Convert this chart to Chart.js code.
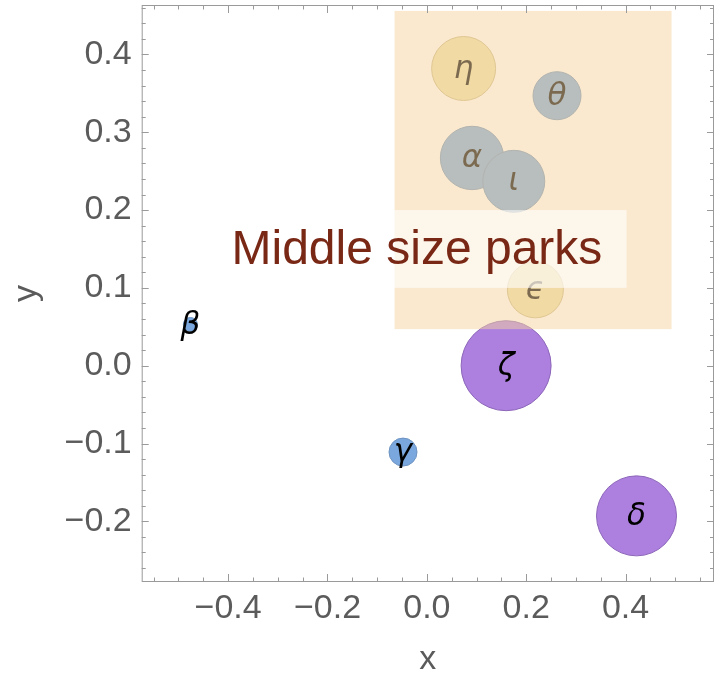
<!DOCTYPE html>
<html>
<head>
<meta charset="utf-8">
<script src="https://cdn.jsdelivr.net/npm/chart.js@4.4.1/dist/chart.umd.min.js"></script>
<style>
  body { margin: 0; background: #fff; }
  #wrap { width: 716px; height: 677px; }
</style>
</head>
<body>
<div id="wrap"><canvas id="parkChart"></canvas></div>
<script>
// parks, greek labels
const names = ['α', 'β', 'γ', 'δ', 'ϵ', 'ζ', 'η', 'θ', 'ι'];
const xs = [0.091, -0.476, -0.048, 0.422, 0.2185, 0.1595, 0.074, 0.262, 0.175];
const ys = [0.267, 0.053, -0.111, -0.193, 0.0975, 0.0, 0.382, 0.347, 0.237];
const sizes = [31.7, 7, 14, 40, 28, 45, 32, 24, 31];
const groups = ['blue', 'blue', 'blue', 'purple', 'yellow', 'purple', 'yellow', 'blue', 'blue'];

const xTicks = [-0.4, -0.2, 0.0, 0.2, 0.4];
const yTicks = [-0.2, -0.1, 0.0, 0.1, 0.2, 0.3, 0.4];

// highlighted region + caption
const parkX = [-0.065, 0.4925];
const parkY = [0.047, 0.456];
const captionX = [-0.442, 0.402];
const captionY = [0.1, 0.2];
const caption = 'Middle size parks';

const fills = { blue: '#7aa8de', purple: '#ad80e0', yellow: '#ece0a8' };
const edges = { blue: '#6e93c0', purple: '#8c66b8', yellow: '#c9b98a' };

function fmt(v) {
    const s = Math.abs(v).toFixed(1);
    return v < -1e-9 ? '\u2212' + s : s;
}

// keep the plot box where the reference has it
function noPad(s) {
    s.paddingTop = 0; s.paddingBottom = 0; s.paddingLeft = 0; s.paddingRight = 0;
}

const decor = {
    id: 'decor',
    afterDatasetsDraw(chart) {
        const { ctx, chartArea: a, scales: { x, y } } = chart;
        const meta = chart.getDatasetMeta(0);
        ctx.save();
        ctx.beginPath();
        ctx.rect(a.left, a.top, a.right - a.left, a.bottom - a.top);
        ctx.clip();

        // letters on the bubbles
        ctx.font = 'italic 31px "DejaVu Sans"';
        ctx.textAlign = 'center';
        ctx.textBaseline = 'middle';
        ctx.fillStyle = '#000';
        meta.data.forEach((pt, i) => ctx.fillText(names[i], pt.x, pt.y + 1));

        // shaded region
        const rx0 = x.getPixelForValue(parkX[0]), rx1 = x.getPixelForValue(parkX[1]);
        const ry0 = y.getPixelForValue(parkY[1]), ry1 = y.getPixelForValue(parkY[0]);
        ctx.fillStyle = 'rgba(245,211,157,0.5)';
        ctx.fillRect(rx0, ry0, rx1 - rx0, ry1 - ry0);

        // caption box
        const cx0 = x.getPixelForValue(captionX[0]), cx1 = x.getPixelForValue(captionX[1]);
        const cy0 = y.getPixelForValue(captionY[1]), cy1 = y.getPixelForValue(captionY[0]);
        ctx.fillStyle = 'rgba(255,255,255,0.6)';
        ctx.fillRect(cx0, cy0, cx1 - cx0, cy1 - cy0);
        ctx.font = '48px "Liberation Sans"';
        ctx.fillStyle = '#7a2816';
        ctx.fillText(caption, (cx0 + cx1) / 2, (cy0 + cy1) / 2 + 2);
        ctx.restore();

        // frame with ticks on all sides
        ctx.save();
        ctx.strokeStyle = '#9a9a9a';
        ctx.lineWidth = 1;
        ctx.strokeRect(a.left + 0.5, a.top + 0.5, a.right - a.left - 1, a.bottom - a.top - 1);
        ctx.beginPath();
        for (let k = -11; k <= 11; k++) {
            const v = k * 0.05;
            const len = (k % 4 === 0) ? 8 : 4.5;
            const px = Math.round(x.getPixelForValue(v)) + 0.5;
            if (px <= a.left || px >= a.right) continue;
            ctx.moveTo(px, a.bottom); ctx.lineTo(px, a.bottom - len);
            ctx.moveTo(px, a.top); ctx.lineTo(px, a.top + len);
        }
        for (let k = -13; k <= 23; k++) {
            const v = k * 0.02;
            const len = (k % 5 === 0) ? 7 : 4;
            const py = Math.round(y.getPixelForValue(v)) + 0.5;
            if (py <= a.top || py >= a.bottom) continue;
            ctx.moveTo(a.left, py); ctx.lineTo(a.left + len, py);
            ctx.moveTo(a.right, py); ctx.lineTo(a.right - len, py);
        }
        ctx.stroke();
        ctx.restore();
    }
};

const points = xs.map((v, i) => ({ x: v, y: ys[i], r: sizes[i] }));
const tickFont = { family: '"Liberation Sans", Arial, sans-serif', size: 34 };

new Chart(document.getElementById('parkChart'), {
    type: 'bubble',
    data: {
        datasets: [{
            data: points,
            backgroundColor: groups.map(g => fills[g]),
            borderColor: groups.map(g => edges[g]),
            borderWidth: 1
        }]
    },
    options: {
        responsive: true,
        maintainAspectRatio: false,
        animation: false,
        layout: { autoPadding: false, padding: { top: 5, right: 2, left: 0, bottom: 0 } },
        plugins: { legend: { display: false }, tooltip: { enabled: false } },
        scales: {
            x: {
                type: 'linear',
                min: -0.574,
                max: 0.578,
                afterBuildTicks: s => { s.ticks = xTicks.map(v => ({ value: v })); },
                afterFit: s => { s.height = 95; noPad(s); },
                grid: { display: false, drawTicks: false },
                border: { display: false },
                ticks: { font: tickFont, color: '#5b5b5b', padding: 6, maxRotation: 0, autoSkip: false, callback: v => fmt(v) },
                title: { display: true, text: 'x', font: { ...tickFont, lineHeight: 1 }, color: '#5b5b5b', padding: { top: 0, bottom: 0 } }
            },
            y: {
                type: 'linear',
                min: -0.278,
                max: 0.4636,
                afterBuildTicks: s => { s.ticks = yTicks.map(v => ({ value: v })); },
                afterFit: s => { s.width = 141.7; noPad(s); },
                grid: { display: false, drawTicks: false },
                border: { display: false },
                ticks: { font: tickFont, color: '#5b5b5b', padding: 10, autoSkip: false, callback: v => fmt(v) },
                title: { display: true, text: 'y', font: { ...tickFont, lineHeight: 1 }, color: '#5b5b5b', padding: { top: 10, bottom: 0 } }
            }
        }
    },
    plugins: [decor]
});
</script>
</body>
</html>
